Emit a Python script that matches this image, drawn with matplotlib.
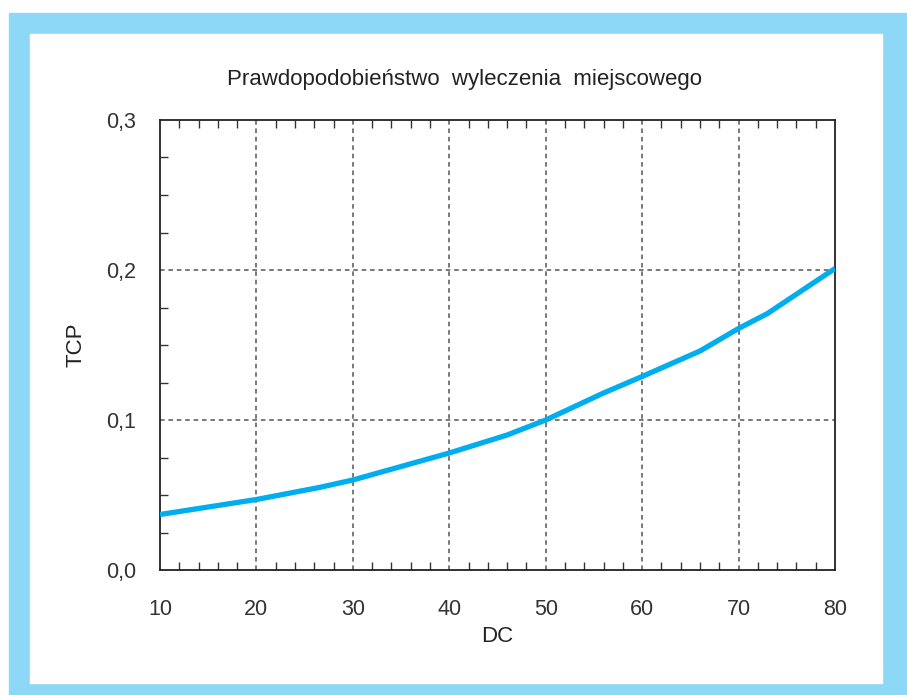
import numpy as np
import matplotlib.pyplot as plt
from matplotlib.patches import Rectangle
from matplotlib.ticker import FixedLocator, FuncFormatter

plt.rcParams['font.family'] = ['Liberation Sans', 'DejaVu Sans']

# values
dc = [10, 16, 20, 26.5, 30, 35, 40, 46, 50, 56, 60, 66, 70, 73, 80]
tcp = [0.037, 0.043, 0.047, 0.055, 0.060, 0.069, 0.078, 0.090, 0.100,
       0.118, 0.129, 0.146, 0.161, 0.171, 0.201]

title = 'Prawdopodobieństwo  wyleczenia  miejscowego'
x_ticks = [10, 20, 30, 40, 50, 60, 70, 80]
y_ticks = [0.0, 0.1, 0.2, 0.3]

W, H = 907, 695
fig = plt.figure(figsize=(W / 100, H / 100), dpi=100)

# light blue frame with white panel
fig.patches.append(Rectangle((9 / W, 0), 1 - 9 / W, (H - 13) / H,
                             transform=fig.transFigure, color='#8dd8f6', zorder=-10))
fig.patches.append(Rectangle((30 / W, 12 / H), (882 - 30) / W, (683 - 34) / H,
                             transform=fig.transFigure, color='white', zorder=-9))

ax = fig.add_axes([160 / W, (H - 570) / H, (835 - 160) / W, (570 - 120) / H])
ax.patch.set_alpha(0)

ax.plot(dc, tcp, color='#00aeef', lw=3.8, solid_capstyle='butt', zorder=3)

ax.set_xlim(10, 80)
ax.set_ylim(0, 0.3)

ax.set_xticks(x_ticks)
ax.set_yticks(y_ticks)
ax.yaxis.set_major_formatter(FuncFormatter(lambda v, p: f'{v:.1f}'.replace('.', ',')))
ax.xaxis.set_minor_locator(FixedLocator([v for v in np.arange(10, 81, 2) if v % 10 != 0]))
ax.yaxis.set_minor_locator(FixedLocator([0.025, 0.05, 0.075, 0.125, 0.15, 0.175, 0.225, 0.25, 0.275]))

ax.tick_params(which='major', length=0, labelsize=15.5, colors='#333333')
ax.tick_params(axis='y', which='major', pad=17)
ax.tick_params(axis='x', which='major', pad=21)
ax.tick_params(which='minor', direction='in', length=6, width=1, color='#333333',
               top=True, bottom=True, left=True, right=False)

for s in ax.spines.values():
    s.set_color('#222222')
    s.set_linewidth(1.3)

# dashed grid on majors, skipping the ones lying on the frame
for v in x_ticks[1:-1]:
    ax.axvline(v, color='#555555', ls=(0, (3, 2.5)), lw=1.1, zorder=1)
for v in y_ticks[1:-1]:
    ax.axhline(v, color='#555555', ls=(0, (3, 2.5)), lw=1.1, zorder=1)

ax.set_xlabel('DC', fontsize=16, color='#222222', labelpad=4)
ax.set_ylabel('TCP', fontsize=16, color='#222222', labelpad=14)

fig.text(465 / W, (H - 80) / H, title, fontsize=16, color='#222222',
         ha='center', va='center')

fig.savefig('out.png', dpi=100)
